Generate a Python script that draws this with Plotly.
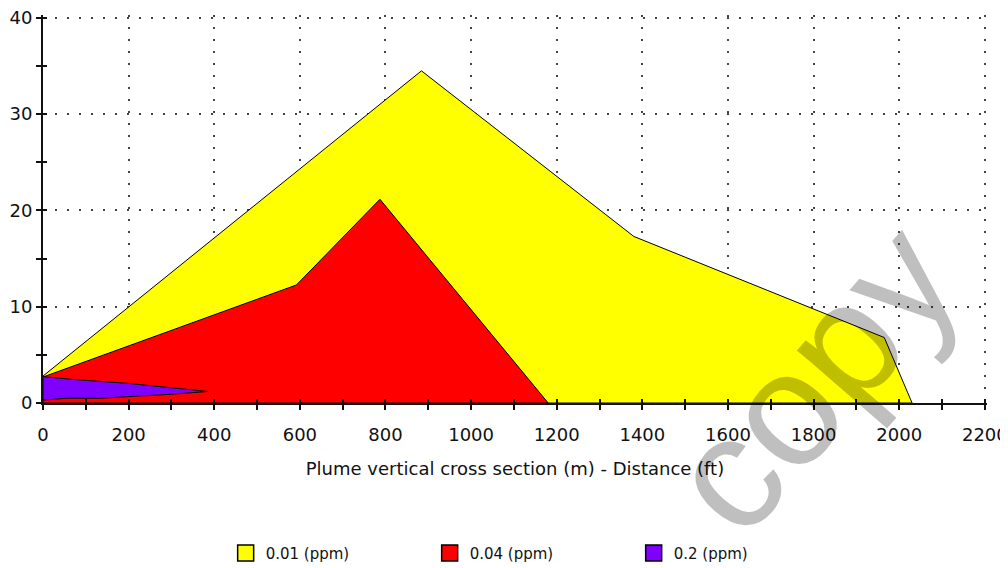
import plotly.graph_objects as go

# ---- data ----
yellow_x = [0, 0, 884, 1380, 1965, 2030, 0]
yellow_y = [0, 2.8, 34.5, 17.3, 6.8, 0, 0]

red_x = [0, 0, 592, 787, 1180, 0]
red_y = [0, 2.7, 12.26, 21.16, 0, 0]

purple_x = [0, 0, 24, 86, 195, 297, 385, 297, 203, 133, 55, 0]
purple_y = [0.3, 2.74, 2.63, 2.39, 2.05, 1.59, 1.2, 0.9, 0.65, 0.49, 0.49, 0.3]

series_names = ["0.01 (ppm)", "0.04 (ppm)", "0.2 (ppm)"]
series_colors = ["#ffff00", "#ff0000", "#8000ff"]

x_tick_vals = list(range(0, 2201, 200))
y_tick_vals = [0, 10, 20, 30, 40]

FONT = "DejaVu Sans"
X_RANGE = [0, 2205]
Y_RANGE = [0, 40.3]

fig = go.Figure()
for xs, ys, name, col in zip([yellow_x, red_x, purple_x], [yellow_y, red_y, purple_y],
                             series_names, series_colors):
    fig.add_trace(go.Scatter(x=xs, y=ys, mode="lines", fill="toself", fillcolor=col,
                             line=dict(color="black", width=1), showlegend=False,
                             hoverinfo="skip"))
# legend entries (square swatches)
for name, col in zip(series_names, series_colors):
    fig.add_trace(go.Scatter(x=[None], y=[None], mode="markers", name=name,
                             marker=dict(symbol="square", size=16, color=col,
                                         line=dict(color="black", width=1.5))))

axis_common = dict(showline=True, linecolor="#111", linewidth=2, zeroline=False,
                   tickcolor="#111", ticklen=5, tickwidth=1.5, automargin=False,
                   ticklabeloverflow="allow")

fig.update_layout(
    width=1000, height=560,
    paper_bgcolor="white", plot_bgcolor="white",
    margin=dict(l=35, r=21, t=7, b=165, autoexpand=False),
    font=dict(family=FONT, size=18, color="#111"),
    xaxis=dict(range=X_RANGE, tickvals=x_tick_vals, ticks="outside",
               minor=dict(tickvals=list(range(100, 2200, 200)), ticks="outside", ticklen=5,
                          tickcolor="#111", showgrid=False),
               showgrid=True, gridcolor="#444", gridwidth=2, griddash="2px,10px",
               ticklabelstandoff=9,
               title=dict(text="Plume vertical cross section (m) - Distance (ft)",
                          font=dict(size=18), standoff=19),
               **axis_common),
    yaxis=dict(range=Y_RANGE, tickvals=y_tick_vals, ticks="outside",
               minor=dict(tickvals=[5, 15, 25, 35], ticks="outside", ticklen=5,
                          tickcolor="#111", showgrid=False),
               showgrid=True, gridcolor="#444", gridwidth=2, griddash="2px,10px",
               ticklabelstandoff=0,
               **axis_common),
    xaxis2=dict(range=X_RANGE, overlaying="x", anchor="y2", side="bottom",
                tickvals=list(range(0, 2201, 100)), ticks="inside", showticklabels=False,
                showgrid=False, zeroline=False, showline=False, layer="above traces",
                tickcolor="#111", ticklen=4, tickwidth=1.5),
    yaxis2=dict(range=Y_RANGE, overlaying="y", anchor="x2", side="left",
                tickvals=list(range(0, 41, 5)), ticks="inside", showticklabels=False,
                showgrid=False, zeroline=False, showline=False, layer="above traces",
                tickcolor="#111", ticklen=4, tickwidth=1.5),
    legend=dict(orientation="h", x=0.1935, xanchor="left", y=-0.387, yanchor="middle",
                font=dict(size=15), entrywidth=159, entrywidthmode="pixels",
                itemsizing="trace", bgcolor="rgba(0,0,0,0)"),
    annotations=[dict(text="copy", xref="paper", yref="paper", x=0.815, y=0.065,
                      xanchor="center", yanchor="middle", showarrow=False, textangle=-49,
                      font=dict(family="Liberation Sans", size=162, color="rgba(0,0,0,0.25)"))],
)
fig.add_trace(go.Scatter(x=[0], y=[0], xaxis="x2", yaxis="y2", mode="markers",
                         marker=dict(size=1, opacity=0), showlegend=False, hoverinfo="skip"))

fig.write_html("out.html")
